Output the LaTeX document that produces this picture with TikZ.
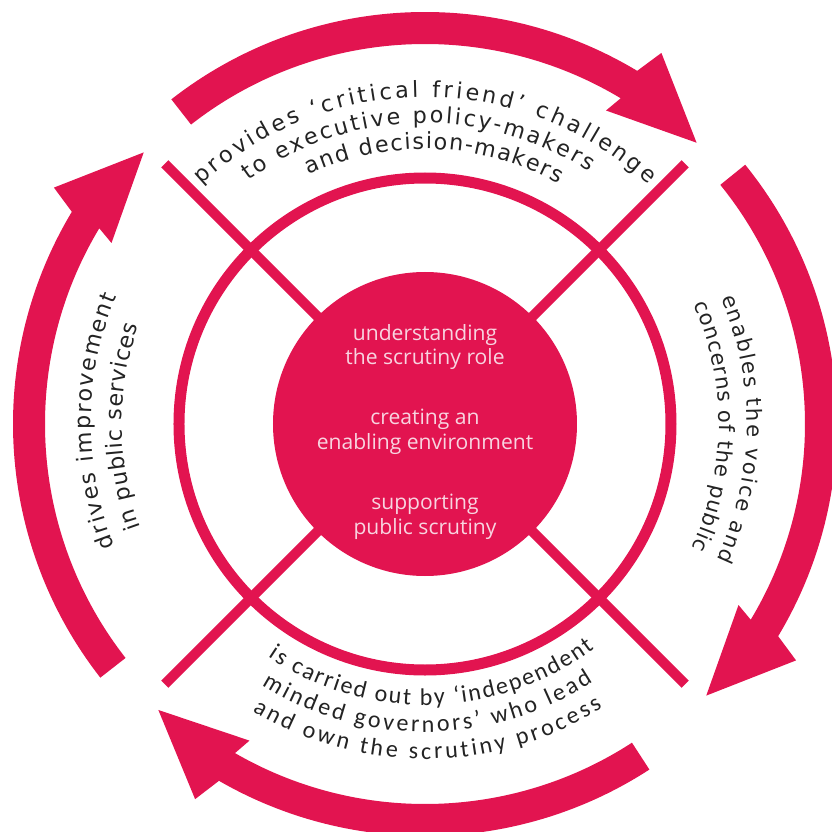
\documentclass[tikz,border=0pt]{standalone}
\usepackage{fontspec}
\usepackage{tikz}
\usetikzlibrary{decorations.text,positioning,calc}
\newfontfamily\arcfont{DejaVu Sans}
\newfontfamily\govfont{Carlito}
\newfontfamily\hubfont{Open Sans}
\newcommand\ringtxt{\arcfont\fontsize{19pt}{21pt}\selectfont}
\newcommand\sidetxt{\arcfont\fontsize{18pt}{20pt}\selectfont}
\newcommand\govtxt{\govfont\fontsize{20.5pt}{22pt}\selectfont}
\definecolor{scred}{RGB}{226,20,80}
\definecolor{scink}{RGB}{35,35,35}
\definecolor{scpale}{RGB}{248,212,224}

\begin{document}
\begin{tikzpicture}[x=0.03cm, y=0.03cm,
        arm/.style={scred, line width=0.3cm},
        hub/.style={align=center, text=scpale, font=\hubfont\fontsize{18pt}{21.3pt}\selectfont},
        curved/.style={decorate, decoration={text along path, text color=scink,
            text align={fit to path}, text={#1}}}]
        \useasboundingbox (-425,-408) rectangle (406,424);
        % Outer arrows, all clockwise: tail angle / tip angle
        \foreach \tl/\tp in {128/46, 39/-44, -57/-133, 218/136}
        {
        \fill[scred] (\tl:380) arc[start angle=\tl, end angle=\tp+13, radius=380]
            -- ({\tp+14}:362) -- (\tp:391) -- ({\tp+11.5}:440) -- ({\tp+13}:412)
            arc[start angle=\tp+13, end angle=\tl, radius=412] -- cycle;
        }
        % Ring, arms and hub
        \draw[scred, line width=0.33cm] (0,0) circle[radius=246];
        \foreach \a in {45,135,225,315}
            \draw[arm] (0,0) -- (\a:368);
        \fill[scred] (0,0) circle[radius=152];
        \node[hub] (role) at (0,77) {understanding\\the scrutiny role};
        \node[hub] (env) at (0,-8) {creating an\\enabling environment};
        \node[hub] (supp) at (0,-93) {supporting\\public scrutiny};
        % Top labels
        \path[curved={|\ringtxt|provides ‘critical friend’ challenge}]
            (133:327) arc[start angle=133, end angle=47, radius=327];
        \path[curved={|\ringtxt|to executive policy-makers}]
            (126:301) arc[start angle=126, end angle=57, radius=301];
        \path[curved={|\ringtxt|and decision-makers}]
            (115:275) arc[start angle=115, end angle=61, radius=275];
        % Right labels
        \path[curved={|\sidetxt|enables the voice and}]
            (23:322) arc[start angle=23, end angle=-25, radius=322];
        \path[curved={|\sidetxt|concerns of the public}]
            (24:294) arc[start angle=24, end angle=-25, radius=294];
        % Bottom labels
        \path[curved={|\govtxt|is carried out by ‘independent}]
            (-124:281) arc[start angle=-124, end angle=-53, radius=281];
        \path[curved={|\govtxt|minded governors’ who lead}]
            (-122:308) arc[start angle=-122, end angle=-57, radius=308];
        \path[curved={|\govtxt|and own the scrutiny process}]
            (-121:335) arc[start angle=-121, end angle=-58, radius=335];
        % Left labels
        \path[curved={|\ringtxt|drives improvement}]
            (201.5:334) arc[start angle=201.5, end angle=157.5, radius=334];
        \path[curved={|\ringtxt|in public services}]
            (200:303) arc[start angle=200, end angle=161, radius=303];
\end{tikzpicture}
\end{document}
